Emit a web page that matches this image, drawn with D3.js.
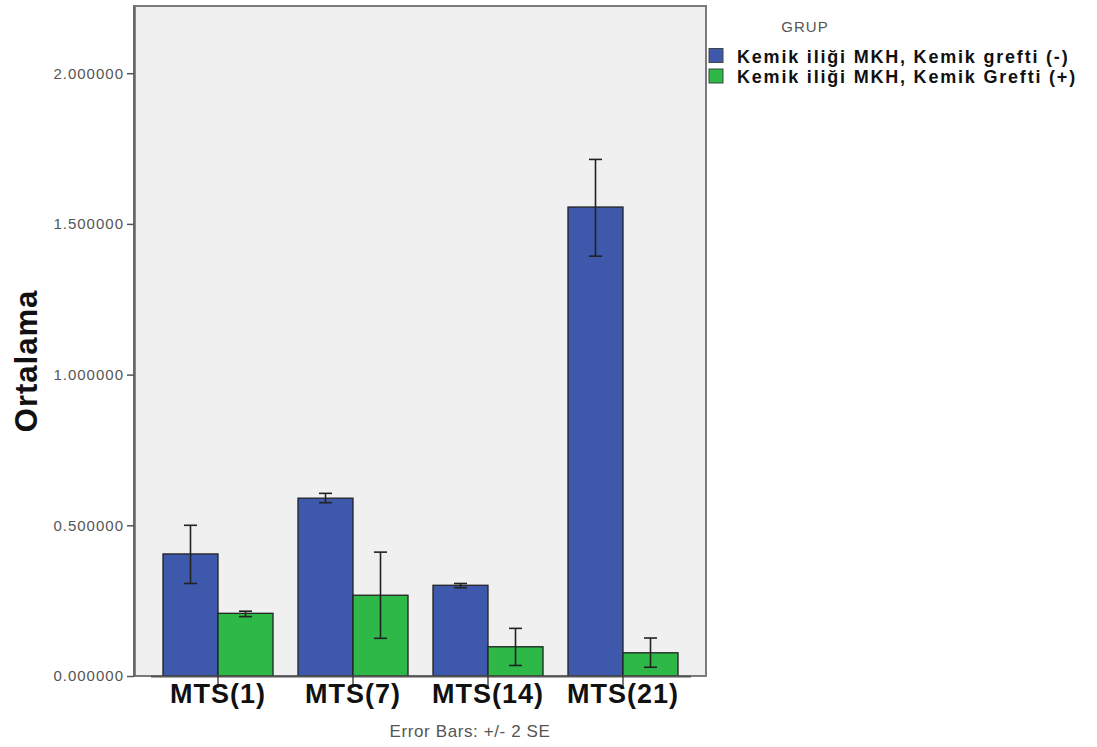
<!DOCTYPE html>
<html>
<head>
<meta charset="utf-8">
<script src="https://cdn.jsdelivr.net/npm/d3@7"></script>
<style>
  body { margin: 0; background: #fff; }
  svg { display: block; }
</style>
</head>
<body>
<script>
// data
const categories = ["MTS(1)", "MTS(7)", "MTS(14)", "MTS(21)"];
const seriesNames = ["Kemik iliği MKH, Kemik grefti (-)", "Kemik iliği MKH, Kemik Grefti (+)"];
const meansMinus = [0.405, 0.590, 0.301, 1.556];
const errLowMinus = [0.307, 0.575, 0.293, 1.393];
const errHighMinus = [0.500, 0.606, 0.307, 1.714];
const meansPlus = [0.208, 0.268, 0.097, 0.077];
const errLowPlus = [0.197, 0.125, 0.035, 0.029];
const errHighPlus = [0.215, 0.411, 0.158, 0.126];
const yTicks = [0, 0.5, 1.0, 1.5, 2.0];

const W = 1097, H = 747;
const plot = { left: 134, right: 706, top: 6, bottom: 676 };
const colors = ["#3E58AC", "#2EB848"];
const font = "Liberation Sans, Arial, sans-serif";

const svg = d3.select("body").append("svg")
  .attr("width", W).attr("height", H);

// scales
const x = d3.scaleBand()
  .domain(categories)
  .range([150.5, 690.5])
  .paddingInner(0.185)
  .paddingOuter(0.0925);

const xSub = d3.scaleBand()
  .domain([0, 1])
  .range([0, x.bandwidth()]);

const y = d3.scaleLinear()
  .domain([0, 2.223])
  .range([plot.bottom, plot.top]);

// plot background + frame
svg.append("rect")
  .attr("x", plot.left).attr("y", plot.top)
  .attr("width", plot.right - plot.left)
  .attr("height", plot.bottom - plot.top)
  .attr("fill", "#F0F0F0")
  .attr("stroke", "#7a7a7a")
  .attr("stroke-width", 2);

// build rows
const rows = [];
categories.forEach((c, i) => {
  rows.push({ cat: c, s: 0, v: meansMinus[i], lo: errLowMinus[i], hi: errHighMinus[i] });
  rows.push({ cat: c, s: 1, v: meansPlus[i], lo: errLowPlus[i], hi: errHighPlus[i] });
});

// bars
svg.append("g").selectAll("rect")
  .data(rows)
  .join("rect")
  .attr("x", d => x(d.cat) + xSub(d.s))
  .attr("y", d => y(d.v))
  .attr("width", xSub.bandwidth())
  .attr("height", d => y(0) - y(d.v))
  .attr("fill", d => colors[d.s])
  .attr("stroke", "#222")
  .attr("stroke-width", 1.3);

// error bars
const eb = svg.append("g").attr("stroke", "#222").attr("stroke-width", 1.6);
const cap = 6.5;
rows.forEach(d => {
  const cx = x(d.cat) + xSub(d.s) + xSub.bandwidth() / 2;
  eb.append("line").attr("x1", cx).attr("x2", cx).attr("y1", y(d.lo)).attr("y2", y(d.hi));
  eb.append("line").attr("x1", cx - cap).attr("x2", cx + cap).attr("y1", y(d.lo)).attr("y2", y(d.lo));
  eb.append("line").attr("x1", cx - cap).attr("x2", cx + cap).attr("y1", y(d.hi)).attr("y2", y(d.hi));
});

// y axis
const yAxis = svg.append("g")
  .attr("transform", `translate(${plot.left},0)`)
  .call(d3.axisLeft(y).tickValues(yTicks).tickFormat(d3.format(".6f"))
    .tickSize(7).tickSizeOuter(0).tickPadding(3));
yAxis.select(".domain").attr("stroke", "#666").attr("stroke-width", 2.5);
yAxis.selectAll(".tick line").attr("stroke", "#555").attr("stroke-width", 1.5);
yAxis.selectAll(".tick text")
  .attr("fill", "#555")
  .attr("font-family", font)
  .attr("font-size", 15)
  .attr("letter-spacing", 1);

// x axis
const xAxis = svg.append("g")
  .attr("transform", `translate(0,${plot.bottom})`)
  .call(d3.axisBottom(x).tickSize(12).tickPadding(1).tickSizeOuter(0));
xAxis.select(".domain").attr("stroke", "#555").attr("stroke-width", 2);
xAxis.selectAll(".tick line").attr("stroke", "#333").attr("stroke-width", 1.3);
xAxis.selectAll(".tick text")
  .attr("fill", "#111")
  .attr("font-family", font)
  .attr("font-weight", "bold")
  .attr("font-size", 27)
  .attr("letter-spacing", 1)
  .attr("dy", "0.5em");

// y title
svg.append("text")
  .attr("transform", `translate(37,361) rotate(-90)`)
  .attr("text-anchor", "middle")
  .attr("font-family", font)
  .attr("font-weight", "bold")
  .attr("font-size", 31)
  .attr("letter-spacing", 1)
  .attr("fill", "#111")
  .text("Ortalama");

// footnote
svg.append("text")
  .attr("x", 470).attr("y", 737)
  .attr("text-anchor", "middle")
  .attr("font-family", font)
  .attr("font-size", 17)
  .attr("letter-spacing", 0.6)
  .attr("fill", "#555")
  .text("Error Bars: +/- 2 SE");

// legend
svg.append("text")
  .attr("x", 805).attr("y", 32)
  .attr("text-anchor", "middle")
  .attr("font-family", font)
  .attr("font-size", 15)
  .attr("letter-spacing", 1)
  .attr("fill", "#555")
  .text("GRUP");

const rowStep = 20.5;
const legend = svg.append("g").attr("transform", "translate(709,48.5)");
seriesNames.forEach((name, i) => {
  legend.append("rect")
    .attr("x", 0).attr("y", i * rowStep)
    .attr("width", 14).attr("height", 14)
    .attr("fill", colors[i]).attr("stroke", "#444").attr("stroke-width", 1);
  legend.append("text")
    .attr("x", 28).attr("y", i * rowStep + 14)
    .attr("font-family", font)
    .attr("font-weight", "bold")
    .attr("font-size", 18)
    .attr("letter-spacing", 1.8)
    .attr("fill", "#111")
    .text(name);
});
</script>
</body>
</html>
